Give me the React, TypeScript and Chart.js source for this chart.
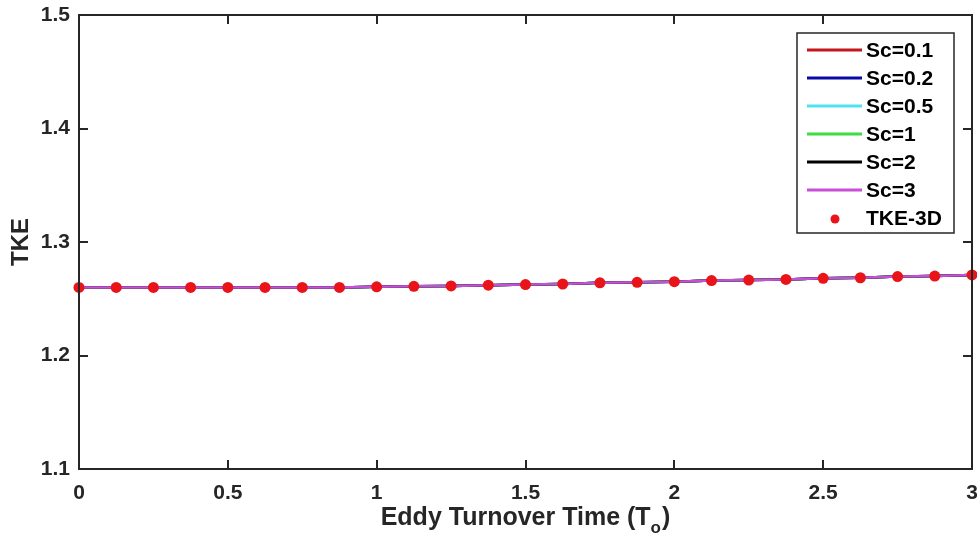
import React, { useEffect, useRef } from "react";
import { Chart, registerables } from "chart.js";

Chart.register(...registerables);

const timeValues = [0, 0.125, 0.25, 0.375, 0.5, 0.625, 0.75, 0.875, 1, 1.125, 1.25, 1.375, 1.5, 1.625, 1.75, 1.875, 2, 2.125, 2.25, 2.375, 2.5, 2.625, 2.75, 2.875, 3];

const sc01 = [1.260, 1.260, 1.260, 1.260, 1.260, 1.260, 1.260, 1.260, 1.2605, 1.261, 1.2613, 1.262, 1.2625, 1.263, 1.264, 1.2645, 1.265, 1.266, 1.2665, 1.267, 1.268, 1.2685, 1.2695, 1.270, 1.271];
const sc02 = [1.260, 1.260, 1.260, 1.260, 1.260, 1.260, 1.260, 1.260, 1.2605, 1.261, 1.2613, 1.262, 1.2625, 1.263, 1.264, 1.2645, 1.265, 1.266, 1.2665, 1.267, 1.268, 1.2685, 1.2695, 1.270, 1.271];
const sc05 = [1.260, 1.260, 1.260, 1.260, 1.260, 1.260, 1.260, 1.260, 1.2605, 1.261, 1.2613, 1.262, 1.2625, 1.263, 1.264, 1.2645, 1.265, 1.266, 1.2665, 1.267, 1.268, 1.2685, 1.2695, 1.270, 1.271];
const sc1 = [1.260, 1.260, 1.260, 1.260, 1.260, 1.260, 1.260, 1.260, 1.2605, 1.261, 1.2613, 1.262, 1.2625, 1.263, 1.264, 1.2645, 1.265, 1.266, 1.2665, 1.267, 1.268, 1.2685, 1.2695, 1.270, 1.271];
const sc2 = [1.260, 1.260, 1.260, 1.260, 1.260, 1.260, 1.260, 1.260, 1.2605, 1.261, 1.2613, 1.262, 1.2625, 1.263, 1.264, 1.2645, 1.265, 1.266, 1.2665, 1.267, 1.268, 1.2685, 1.2695, 1.270, 1.271];
const sc3 = [1.260, 1.260, 1.260, 1.260, 1.260, 1.260, 1.260, 1.260, 1.2605, 1.261, 1.2613, 1.262, 1.2625, 1.263, 1.264, 1.2645, 1.265, 1.266, 1.2665, 1.267, 1.268, 1.2685, 1.2695, 1.270, 1.271];
const tke3d = [1.260, 1.260, 1.260, 1.260, 1.260, 1.260, 1.260, 1.260, 1.2605, 1.261, 1.2613, 1.262, 1.2625, 1.263, 1.264, 1.2645, 1.265, 1.266, 1.2665, 1.267, 1.268, 1.2685, 1.2695, 1.270, 1.271];

const seriesLabels = ["Sc=0.1", "Sc=0.2", "Sc=0.5", "Sc=1", "Sc=2", "Sc=3"];
const seriesColors = ["#c4161c", "#0a0aa8", "#4fe3f0", "#3fdc3f", "#000000", "#c94fd8"];
const seriesValues = [sc01, sc02, sc05, sc1, sc2, sc3];
const pointLabel = "TKE-3D";
const pointColor = "#e8141a";

const xTickValues = [0, 0.5, 1, 1.5, 2, 2.5, 3];
const yTickValues = [1.1, 1.2, 1.3, 1.4, 1.5];

const FONT = "Liberation Sans, Arial, Helvetica, sans-serif";
const AXIS_COLOR = "#262626";

const framePlugin = {
  id: "matlabFrame",
  afterDatasetsDraw(chart: any) {
    const { ctx, chartArea } = chart;
    const { left, right, top, bottom } = chartArea;
    const xs = chart.scales.x;
    const ys = chart.scales.y;
    ctx.save();
    ctx.strokeStyle = AXIS_COLOR;
    ctx.lineWidth = 2;
    ctx.strokeRect(left, top, right - left, bottom - top);
    const tl = 9;
    ctx.beginPath();
    xTickValues.forEach((v) => {
      const px = Math.round(xs.getPixelForValue(v));
      ctx.moveTo(px, bottom);
      ctx.lineTo(px, bottom - tl);
      ctx.moveTo(px, top);
      ctx.lineTo(px, top + tl);
    });
    yTickValues.forEach((v) => {
      const py = Math.round(ys.getPixelForValue(v));
      ctx.moveTo(left, py);
      ctx.lineTo(left + tl, py);
      ctx.moveTo(right, py);
      ctx.lineTo(right - tl, py);
    });
    ctx.stroke();

    // Legend
    const lx = 797, ly = 33, lw = 157, lh = 200;
    ctx.fillStyle = "#ffffff";
    ctx.fillRect(lx, ly, lw, lh);
    ctx.lineWidth = 1.5;
    ctx.strokeRect(lx, ly, lw, lh);
    ctx.font = `bold 21px ${FONT}`;
    ctx.textBaseline = "middle";
    ctx.textAlign = "left";
    const rowH = 28;
    const y0 = 50;
    seriesLabels.forEach((lab, i) => {
      const yy = y0 + i * rowH;
      ctx.strokeStyle = seriesColors[i];
      ctx.lineWidth = 3;
      ctx.beginPath();
      ctx.moveTo(807, yy);
      ctx.lineTo(862, yy);
      ctx.stroke();
      ctx.fillStyle = "#000";
      ctx.fillText(lab, 866, yy + 1);
    });
    const yp = y0 + 6 * rowH;
    ctx.fillStyle = pointColor;
    ctx.beginPath();
    ctx.arc(835, yp + 1, 4.5, 0, Math.PI * 2);
    ctx.fill();
    ctx.fillStyle = "#000";
    ctx.fillText(pointLabel, 866, yp + 1);

    // Axis titles
    ctx.fillStyle = "#262626";
    const big = `bold 25px ${FONT}`;
    const small = `bold 17px ${FONT}`;
    ctx.font = big;
    const cx = (left + right) / 2;
    const main = "Eddy Turnover Time (T";
    const sub = "o";
    const close = ")";
    const wMain = ctx.measureText(main).width;
    ctx.font = small;
    const wSub = ctx.measureText(sub).width;
    ctx.font = big;
    const wClose = ctx.measureText(close).width;
    const total = wMain + wSub + wClose + 1;
    let sx = cx - total / 2;
    const by = 525;
    ctx.textBaseline = "alphabetic";
    ctx.textAlign = "left";
    ctx.fillText(main, sx, by);
    sx += wMain;
    ctx.font = small;
    ctx.fillText(sub, sx, by + 8);
    sx += wSub + 1;
    ctx.font = big;
    ctx.fillText(close, sx, by);

    ctx.translate(28, (top + bottom) / 2);
    ctx.rotate(-Math.PI / 2);
    ctx.textAlign = "center";
    ctx.textBaseline = "alphabetic";
    ctx.font = `bold 24px ${FONT}`;
    ctx.fillText("TKE", 0, 0);
    ctx.restore();
  },
};

const zeroPad = (s: any) => {
  s.paddingLeft = 0;
  s.paddingRight = 0;
  s.paddingTop = 0;
  s.paddingBottom = 0;
};

export default function App() {
  const ref = useRef<HTMLCanvasElement | null>(null);
  useEffect(() => {
    document.body.style.margin = "0";
    const canvas = ref.current;
    if (!canvas) return;
    const lineSets = seriesLabels.map((lab, i) => ({
      type: "line" as const,
      label: lab,
      data: timeValues.map((t, j) => ({ x: t, y: seriesValues[i][j] })),
      borderColor: seriesColors[i],
      backgroundColor: seriesColors[i],
      borderWidth: 2.5,
      pointRadius: 0,
      tension: 0,
      order: 10 - i,
    }));
    const pointSet = {
      type: "line" as const,
      label: pointLabel,
      data: timeValues.map((t, j) => ({ x: t, y: tke3d[j] })),
      showLine: false,
      borderColor: pointColor,
      backgroundColor: pointColor,
      pointRadius: 5.5,
      pointBorderWidth: 0,
      order: 0,
    };
    const chart = new Chart(canvas, {
      type: "line",
      data: { datasets: [...lineSets, pointSet] as any },
      options: {
        animation: false,
        responsive: false,
        clip: false as any,
        layout: { padding: { top: 15, right: 5, left: 0, bottom: 0 }, autoPadding: false } as any,
        plugins: { legend: { display: false }, tooltip: { enabled: false } },
        scales: {
          x: {
            type: "linear",
            min: 0,
            max: 3,
            grid: { display: false, drawTicks: false },
            border: { display: false },
            afterFit: (s: any) => { s.height = 75; zeroPad(s); },
            afterBuildTicks: (s: any) => { s.ticks = xTickValues.map((v) => ({ value: v })); },
            ticks: {
              padding: 12,
              color: "#262626",
              font: { family: FONT, size: 21, weight: "bold" },
              maxRotation: 0,
              callback: (v: any) => String(v),
            },
          },
          y: {
            type: "linear",
            min: 1.1,
            max: 1.5,
            grid: { display: false, drawTicks: false },
            border: { display: false },
            afterFit: (s: any) => { s.width = 79; zeroPad(s); },
            afterBuildTicks: (s: any) => { s.ticks = yTickValues.map((v) => ({ value: v })); },
            ticks: {
              padding: 9,
              color: "#262626",
              font: { family: FONT, size: 21, weight: "bold" },
              callback: (v: any) => Number(v).toFixed(1),
            },
          },
        },
      },
      plugins: [framePlugin],
    });
    return () => chart.destroy();
  }, []);
  return (
    <div style={{ width: 977, height: 544, background: "#fff" }}>
      <canvas ref={ref} width={977} height={544} style={{ display: "block" }} />
    </div>
  );
}
